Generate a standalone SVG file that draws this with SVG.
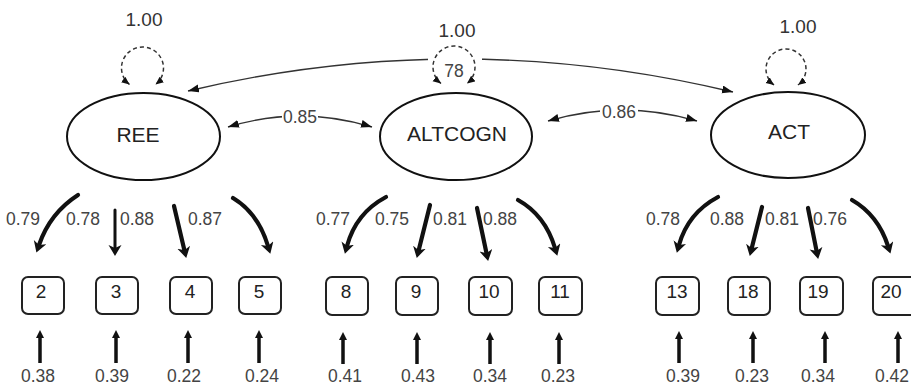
<svg xmlns="http://www.w3.org/2000/svg" width="911" height="386" viewBox="0 0 911 386">
<style>
.lat{fill:#fff;stroke:#111;stroke-width:2}
.obs{fill:#fff;stroke:#222;stroke-width:2}
.nl{font-family:"Liberation Sans",Arial,sans-serif;font-size:21px;fill:#222;text-anchor:middle}
.bl{font-family:"Liberation Sans",Arial,sans-serif;font-size:19px;fill:#222;text-anchor:middle}
.lb{font-family:"Liberation Sans",Arial,sans-serif;font-size:17.5px;fill:#444;text-anchor:middle}
.vl{font-family:"Liberation Sans",Arial,sans-serif;font-size:19px;fill:#333;text-anchor:middle}
.cov{fill:none;stroke:#333;stroke-width:1.4;marker-start:url(#ca);marker-end:url(#ca)}
.loop{fill:none;stroke:#333;stroke-width:1.5;stroke-dasharray:4 3;marker-start:url(#la);marker-end:url(#la)}
.load{fill:none;stroke:#111;stroke-width:4.2;stroke-linecap:round;marker-end:url(#lo)}
.res{fill:none;stroke:#111;stroke-width:3.5;marker-end:url(#ra)}
</style>
<defs>
<marker id="ca" markerUnits="userSpaceOnUse" markerWidth="12" markerHeight="9" refX="11" refY="4" orient="auto-start-reverse"><path d="M0,0 L11,4 L0,8 z" fill="#111"/></marker>
<marker id="la" markerUnits="userSpaceOnUse" markerWidth="9" markerHeight="8" refX="8" refY="3.5" orient="auto-start-reverse"><path d="M0,0 L8,3.5 L0,7 z" fill="#111"/></marker>
<marker id="lo" markerUnits="userSpaceOnUse" markerWidth="12" markerHeight="14" refX="3" refY="6.5" orient="auto"><path d="M0,0 L11,6.5 L0,13 L3,6.5 z" fill="#111"/></marker>
<marker id="ra" markerUnits="userSpaceOnUse" markerWidth="9" markerHeight="9" refX="2" refY="4" orient="auto"><path d="M0,0 L8,4 L0,8 z" fill="#111"/></marker>
</defs>
<rect width="911" height="386" fill="#fff"/>
<g id="connectors">
<path class="cov" d="M188 91 Q460 26.5 733 92"/>
<rect x="428" y="52" width="54" height="14" fill="#fff"/>
<path class="cov" d="M228 127 Q300 105 372 127"/>
<rect x="282" y="107" width="36" height="17" fill="#fff"/>
<text class="lb" x="300" y="123">0.85</text>
<path class="cov" d="M548 121 Q622 99 697 121"/>
<rect x="600" y="102" width="38" height="17" fill="#fff"/>
<text class="lb" x="619" y="118">0.86</text>
<path class="loop" d="M129.5 84.5 A21 21 0 1 1 155.5 84.5"/>
<path class="loop" d="M441 83.5 A21 21 0 1 1 467 83.5"/>
<path class="loop" d="M774 85 A20 20 0 1 1 798 85"/>
<text class="vl" x="144" y="26">1.00</text>
<text class="vl" x="457" y="37">1.00</text>
<text class="lb" x="454" y="77">78</text>
<text class="vl" x="798" y="33">1.00</text>
<path class="load" d="M78 195 Q50 213 39 245"/>
<path class="load" d="M115 210 L115 248" style="stroke-width:3"/>
<path class="load" d="M174 206 L184.4 250.2"/>
<path class="load" d="M233 198 Q258 213 268 246"/>
<path class="load" d="M386 197 Q356 213 347 246"/>
<path class="load" d="M430 205 L418.7 250.2"/>
<path class="load" d="M477 208 L486.5 253.2"/>
<path class="load" d="M518 200 Q545 215 555 248"/>
<path class="load" d="M718 197 Q688 213 679 245"/>
<path class="load" d="M762 207 L751.7 248.2"/>
<path class="load" d="M808 208 L816.6 251.1"/>
<path class="load" d="M852 200 Q878 215 888 246"/>
<text class="lb" x="23" y="225">0.79</text>
<text class="lb" x="83" y="225">0.78</text>
<text class="lb" x="137" y="225">0.88</text>
<text class="lb" x="205" y="225">0.87</text>
<text class="lb" x="333" y="225">0.77</text>
<text class="lb" x="392" y="225">0.75</text>
<text class="lb" x="450" y="225">0.81</text>
<text class="lb" x="500" y="225">0.88</text>
<text class="lb" x="663" y="225">0.78</text>
<text class="lb" x="727" y="225">0.88</text>
<text class="lb" x="782" y="225">0.81</text>
<text class="lb" x="830" y="225">0.76</text>
<path class="res" d="M40 363 V336"/>
<path class="res" d="M116 363 V336"/>
<path class="res" d="M188 363 V336"/>
<path class="res" d="M259 363 V336"/>
<path class="res" d="M343 364 V338"/>
<path class="res" d="M417 364 V338"/>
<path class="res" d="M490 364 V338"/>
<path class="res" d="M559 364 V338"/>
<path class="res" d="M679 363 V337"/>
<path class="res" d="M753 363 V337"/>
<path class="res" d="M825 363 V337"/>
<path class="res" d="M898 363 V337"/>
<text class="lb" x="38" y="382">0.38</text>
<text class="lb" x="112" y="382">0.39</text>
<text class="lb" x="184" y="382">0.22</text>
<text class="lb" x="262" y="382">0.24</text>
<text class="lb" x="345" y="382">0.41</text>
<text class="lb" x="418" y="382">0.43</text>
<text class="lb" x="490" y="382">0.34</text>
<text class="lb" x="558" y="382">0.23</text>
<text class="lb" x="683" y="382">0.39</text>
<text class="lb" x="752" y="382">0.23</text>
<text class="lb" x="818" y="382">0.34</text>
<text class="lb" x="892" y="382">0.42</text>
</g>
<g id="REE"><ellipse class="lat" cx="143.5" cy="136.5" rx="76.5" ry="43.5"/><text class="nl" x="138" y="142">REE</text></g>
<g id="ALTCOGN"><ellipse class="lat" cx="456" cy="136.5" rx="76" ry="43.5"/><text class="nl" x="457" y="141">ALTCOGN</text></g>
<g id="ACT"><ellipse class="lat" cx="788" cy="135" rx="77" ry="43"/><text class="nl" x="789" y="139">ACT</text></g>
<g id="v2"><rect class="obs" x="22" y="277" width="42" height="37" rx="6"/><text class="bl" x="41" y="298">2</text></g>
<g id="v3"><rect class="obs" x="96" y="277" width="42" height="37" rx="6"/><text class="bl" x="116" y="298">3</text></g>
<g id="v4"><rect class="obs" x="170" y="277" width="42" height="37" rx="6"/><text class="bl" x="190" y="298">4</text></g>
<g id="v5"><rect class="obs" x="239" y="277" width="42" height="37" rx="6"/><text class="bl" x="259" y="298">5</text></g>
<g id="v8"><rect class="obs" x="326" y="277" width="42" height="38" rx="6"/><text class="bl" x="346" y="298">8</text></g>
<g id="v9"><rect class="obs" x="396" y="277" width="42" height="38" rx="6"/><text class="bl" x="416" y="298">9</text></g>
<g id="v10"><rect class="obs" x="469" y="277" width="43" height="38" rx="6"/><text class="bl" x="489" y="298">10</text></g>
<g id="v11"><rect class="obs" x="539" y="277" width="43" height="38" rx="6"/><text class="bl" x="560" y="298">11</text></g>
<g id="v13"><rect class="obs" x="656" y="277" width="43" height="38" rx="6"/><text class="bl" x="677" y="298">13</text></g>
<g id="v18"><rect class="obs" x="728" y="277" width="42" height="38" rx="6"/><text class="bl" x="748" y="298">18</text></g>
<g id="v19"><rect class="obs" x="800" y="277" width="43" height="38" rx="6"/><text class="bl" x="818" y="298">19</text></g>
<g id="v20"><rect class="obs" x="873" y="277" width="43" height="38" rx="6"/><text class="bl" x="891" y="298">20</text></g>
</svg>
